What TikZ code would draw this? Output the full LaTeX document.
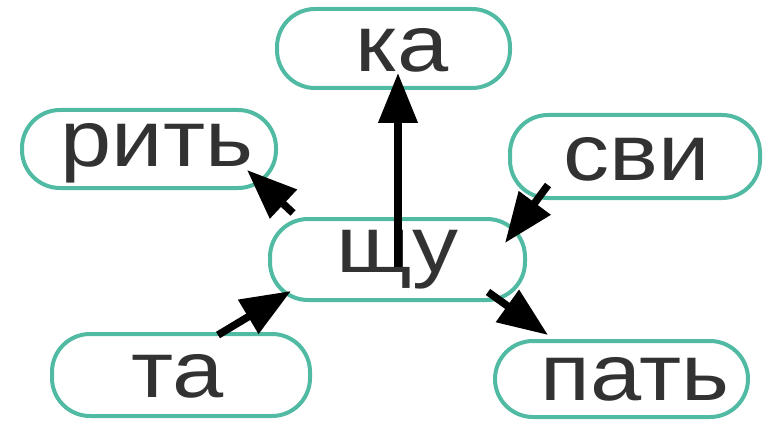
\documentclass[tikz,border=0pt]{standalone}
\usepackage{fontspec}
\setmainfont{Liberation Sans}
\usetikzlibrary{arrows.meta}
\definecolor{teal1}{RGB}{80,186,162}
\definecolor{ink}{RGB}{50,50,50}
\newcommand\wtext[1]{\scalebox{1.15}[1]{#1}}
\tikzset{
  wordbox/.style={draw=teal1, line width=4pt, rounded corners=38pt, fill=none, inner sep=0pt},
  word/.style={anchor=base, inner sep=0pt, text=ink, font=\fontsize{80}{80}\selectfont},
  bigarrow/.style={line width=7.5pt, black, -{Triangle[length=50pt,width=38pt]}}
}
\begin{document}
\begin{tikzpicture}[x=1pt,y=-1pt]
\useasboundingbox (0,0) rectangle (767,422);
% boxes
\node[wordbox, minimum width=233pt, minimum height=79pt] (kaBox) at (393.5,48.5) {};
\node[wordbox, minimum width=255pt, minimum height=81pt] (shuBox) at (397.5,259.5) {};
\node[wordbox, minimum width=254pt, minimum height=78pt] (ritBox) at (149,149) {};
\node[wordbox, minimum width=250pt, minimum height=83pt] (sviBox) at (635,156.5) {};
\node[wordbox, minimum width=258pt, minimum height=82pt] (taBox) at (181,375) {};
\node[wordbox, minimum width=253pt, minimum height=76pt] (patBox) at (621.5,379) {};
% words
\node[word] (ka) at (402,72) {\wtext{ка}};
\node[word] (shu) at (397.5,272) {\wtext{щу}};
\node[word] (rit) at (157,167) {\wtext{рить}};
\node[word] (svi) at (636.5,180) {\wtext{сви}};
\node[word] (ta) at (177.5,397) {\wtext{та}};
\node[word] (pat) at (635,400) {\wtext{пать}};
% arrow ends
\coordinate (kaTail) at (398,267);
\coordinate (kaTip) at (398,73);
\coordinate (ritTail) at (293,213);
\coordinate (ritTip) at (247,170);
\coordinate (sviTail) at (548,185);
\coordinate (sviTip) at (505,243);
\coordinate (taTail) at (218,335);
\coordinate (taTip) at (291,291);
\coordinate (patTail) at (488,292);
\coordinate (patTip) at (548,335);
% arrows
\draw[bigarrow] (kaTail) -- (kaTip);
\draw[bigarrow] (ritTail) -- (ritTip);
\draw[bigarrow] (sviTail) -- (sviTip);
\draw[bigarrow] (taTail) -- (taTip);
\draw[bigarrow] (patTail) -- (patTip);
\end{tikzpicture}
\end{document}
